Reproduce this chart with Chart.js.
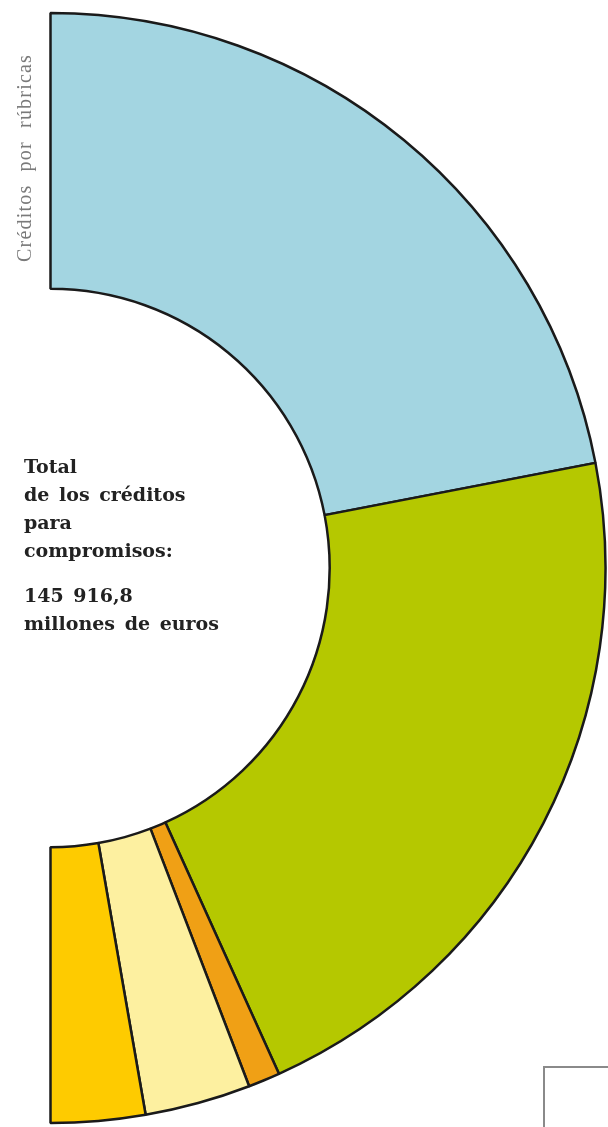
<!DOCTYPE html>
<html>
<head>
<meta charset="utf-8">
<script src="https://cdn.jsdelivr.net/npm/chart.js@4/dist/chart.umd.min.js"></script>
<style>
  html, body { margin: 0; padding: 0; background: #fff; }
  #wrap { position: relative; width: 608px; height: 1127px; overflow: hidden; }
  #grafik { position: absolute; left: 0; top: 0; }
  .rubrica {
    position: absolute; left: 12px; top: 262px;
    transform-origin: 0 0; transform: rotate(-90deg);
    font-family: "Liberation Serif", serif; font-size: 20px;
    letter-spacing: 1.2px; word-spacing: 7px;
    color: #7a7a7a; white-space: nowrap; line-height: 24px;
  }
  .total {
    position: absolute; left: 24px; top: 452px;
    font-family: "DejaVu Serif", serif; font-weight: bold; font-size: 19px;
    line-height: 28px; color: #222; word-spacing: 3px;
  }
  .total p { margin: 0; }
  .total .angka { margin-top: 17px; }
  .kotak {
    position: absolute; left: 543px; top: 1066px; width: 80px; height: 80px;
    border-left: 2px solid #8a8a8a; border-top: 2px solid #8a8a8a;
  }
</style>
</head>
<body>
<div id="wrap">
  <canvas id="grafik" width="608" height="1127"></canvas>
  <div class="rubrica">Créditos por rúbricas</div>
  <div class="total">
    <p>Total<br>de los créditos<br>para<br>compromisos:</p>
    <p class="angka">145 916,8<br>millones de euros</p>
  </div>
  <div class="kotak"></div>
</div>
<script>
// rubricas, millones de euros
var rubrica = ['Rúbrica 1', 'Rúbrica 2', 'Rúbrica 3', 'Rúbrica 4', 'Rúbrica 5'];
var credito = [64100, 62100, 2700, 9000, 8000];
var warna = ['#a3d5e1', '#b5c800', '#f0a015', '#fdf0a0', '#fecb00'];

var ctx = document.getElementById('grafik');
var grafikRubrica = new Chart(ctx, {
	type: 'doughnut',
	data: {
		labels: rubrica,
		datasets: [{
			data: credito,
			backgroundColor: warna,
			borderColor: '#1a1a1a',
			borderWidth: 2.5,
			hoverOffset: 0
		}]
	},
	options: {
		responsive: false,
		animation: false,
		events: [],
		rotation: 0,
		circumference: 180,
		radius: 555,
		cutout: '50.3%',
		layout: {
			padding: {left: 50, right: 2, top: 12, bottom: 3}
		},
		plugins: {
			legend: {display: false},
			tooltip: {enabled: false}
		}
	}
});
</script>
</body>
</html>
